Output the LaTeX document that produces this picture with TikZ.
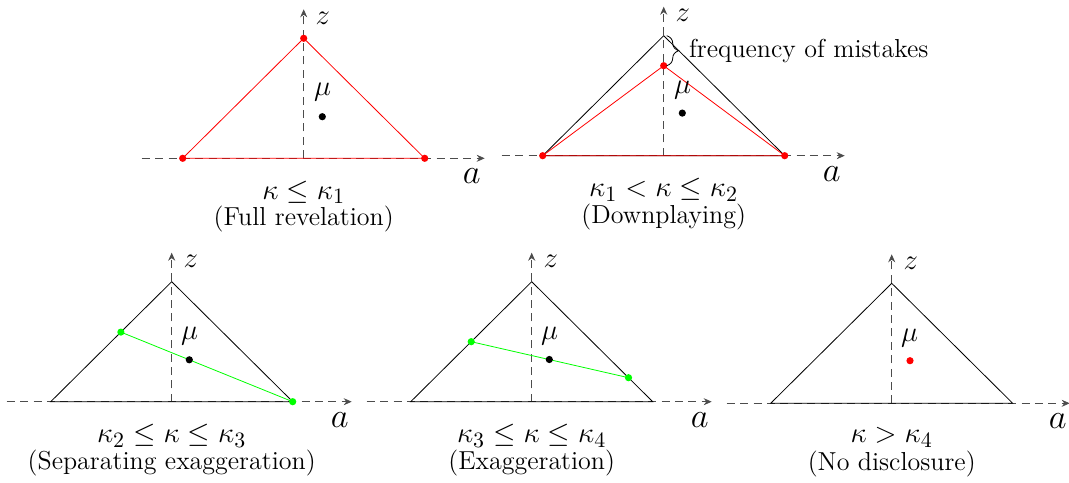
\documentclass[tikz,border=0pt]{standalone}
\usetikzlibrary{calc}
\usetikzlibrary{arrows.meta}
\usetikzlibrary{decorations.pathreplacing}

\tikzset{
  axis/.style={black!70, dash pattern=on 4pt off 2.7pt, -{Stealth[length=4pt, width=3.5pt]}},
  rdot/.style={circle, fill=red, inner sep=0pt, minimum size=3.6pt},
  gdot/.style={circle, fill=green, inner sep=0pt, minimum size=3.6pt},
  mudot/.style={circle, fill=black, inner sep=0pt, minimum size=3.6pt},
  lbl/.style={font=\Large},
  albl/.style={font=\LARGE},
  condtxt/.style={font=\fontsize{15.5}{18}\selectfont},
  captxt/.style={font=\fontsize{13}{15}\selectfont},
}

\begin{document}
\begin{tikzpicture}[x=0.5pt, y=0.5pt]
    \useasboundingbox (0,0) rectangle (1069,482);

    % Full revelation
    \begin{scope}[shift={(303.7,323.7)}]
        \coordinate (L1) at (-121,0);
        \coordinate (R1) at (121,0);
        \coordinate (T1) at (0,120);
        \coordinate (xs1) at (-162,0);
        \coordinate (xe1) at (181,0);
        \coordinate (ye1) at (0,149);
        \draw[axis] (xs1) -- (xe1);
        \draw[axis] (0,0) -- (ye1);
        \draw[red] (L1) -- (T1) -- (R1) -- cycle;
        \node[rdot] (l1) at (L1) {};
        \node[rdot] (r1) at (R1) {};
        \node[rdot] (t1) at (T1) {};
        \node[mudot] (mu1) at (18.6,41.6) {};
        \node[lbl] (muL1) at (19,66) {$\mu$};
        \node[lbl] (z1) at (19,140) {$z$};
        \node[albl] (a1) at (168,-18) {$a$};
        \node[condtxt] (cond1) at (0,-34) {$\kappa\le\kappa_1$};
        \node[captxt] (cap1) at (0,-61) {(Full revelation)};
    \end{scope}

    % Downplaying
    \begin{scope}[shift={(663.7,326.3)}]
        \coordinate (L2) at (-121,0);
        \coordinate (R2) at (121,0);
        \coordinate (T2) at (0,120);
        \coordinate (P2) at (0,90);
        \coordinate (xs2) at (-162,0);
        \coordinate (xe2) at (181,0);
        \coordinate (ye2) at (0,149);
        \draw[axis] (xs2) -- (xe2);
        \draw[axis] (0,0) -- (ye2);
        \draw (L2) -- (T2) -- (R2) -- cycle;
        \draw[red] (L2) -- (P2) -- (R2) -- cycle;
        \node[rdot] (l2) at (L2) {};
        \node[rdot] (r2) at (R2) {};
        \node[rdot] (p2) at (P2) {};
        \draw[decorate, decoration={brace, amplitude=6pt}] (3,120) -- (3,90);
        \node[captxt, anchor=west, inner sep=1pt] (freq) at (23,105) {frequency of mistakes};
        \node[mudot] (mu2) at (18.6,42.6) {};
        \node[lbl] (muL2) at (19,66) {$\mu$};
        \node[lbl] (z2) at (19,140) {$z$};
        \node[albl] (a2) at (168,-18) {$a$};
        \node[condtxt] (cond2) at (0,-34) {$\kappa_1<\kappa\le\kappa_2$};
        \node[captxt] (cap2) at (0,-61) {(Downplaying)};
    \end{scope}

    % Separating exaggeration
    \begin{scope}[shift={(171.7,80.3)}]
        \coordinate (L3) at (-121,0);
        \coordinate (R3) at (121,0);
        \coordinate (T3) at (0,120);
        \coordinate (xs3) at (-165,0);
        \coordinate (xe3) at (180,0);
        \coordinate (ye3) at (0,149);
        \draw[axis] (xs3) -- (xe3);
        \draw[axis] (0,0) -- (ye3);
        \draw (L3) -- (T3) -- (R3) -- cycle;
        \coordinate (G3) at ($(L3)!0.58!(T3)$);
        \draw[green] (G3) -- (R3);
        \node[gdot] (g3) at (G3) {};
        \node[gdot] (r3) at (R3) {};
        \node[mudot] (mu3) at (17.6,41.9) {};
        \node[lbl] (muL3) at (18,66) {$\mu$};
        \node[lbl] (z3) at (19,140) {$z$};
        \node[albl] (a3) at (168,-18) {$a$};
        \node[condtxt] (cond3) at (0,-34) {$\kappa_2\le\kappa\le\kappa_3$};
        \node[captxt] (cap3) at (0,-61) {(Separating exaggeration)};
    \end{scope}

    % Exaggeration
    \begin{scope}[shift={(531.7,80.3)}]
        \coordinate (L4) at (-121,0);
        \coordinate (R4) at (121,0);
        \coordinate (T4) at (0,120);
        \coordinate (xs4) at (-165,0);
        \coordinate (xe4) at (180,0);
        \coordinate (ye4) at (0,149);
        \draw[axis] (xs4) -- (xe4);
        \draw[axis] (0,0) -- (ye4);
        \draw (L4) -- (T4) -- (R4) -- cycle;
        \coordinate (G4) at ($(L4)!0.5!(T4)$);
        \coordinate (H4) at ($(T4)!0.8!(R4)$);
        \draw[green] (G4) -- (H4);
        \node[gdot] (g4) at (G4) {};
        \node[gdot] (h4) at (H4) {};
        \node[mudot] (mu4) at (17.6,42.2) {};
        \node[lbl] (muL4) at (18,66) {$\mu$};
        \node[lbl] (z4) at (19,140) {$z$};
        \node[albl] (a4) at (168,-18) {$a$};
        \node[condtxt] (cond4) at (0,-34) {$\kappa_3\le\kappa\le\kappa_4$};
        \node[captxt] (cap4) at (0,-61) {(Exaggeration)};
    \end{scope}

    % No disclosure
    \begin{scope}[shift={(891.7,78.7)}]
        \coordinate (L5) at (-121,0);
        \coordinate (R5) at (121,0);
        \coordinate (T5) at (0,120);
        \coordinate (xs5) at (-165,0);
        \coordinate (xe5) at (178,0);
        \coordinate (ye5) at (0,149);
        \draw[axis] (xs5) -- (xe5);
        \draw[axis] (0,0) -- (ye5);
        \draw (L5) -- (T5) -- (R5) -- cycle;
        \node[rdot] (mu5) at (18.3,42.6) {};
        \node[lbl] (muL5) at (18,65) {$\mu$};
        \node[lbl] (z5) at (19,140) {$z$};
        \node[albl] (a5) at (166,-18) {$a$};
        \node[condtxt] (cond5) at (0,-34) {$\kappa>\kappa_4$};
        \node[captxt] (cap5) at (0,-61) {(No disclosure)};
    \end{scope}
\end{tikzpicture}
\end{document}
